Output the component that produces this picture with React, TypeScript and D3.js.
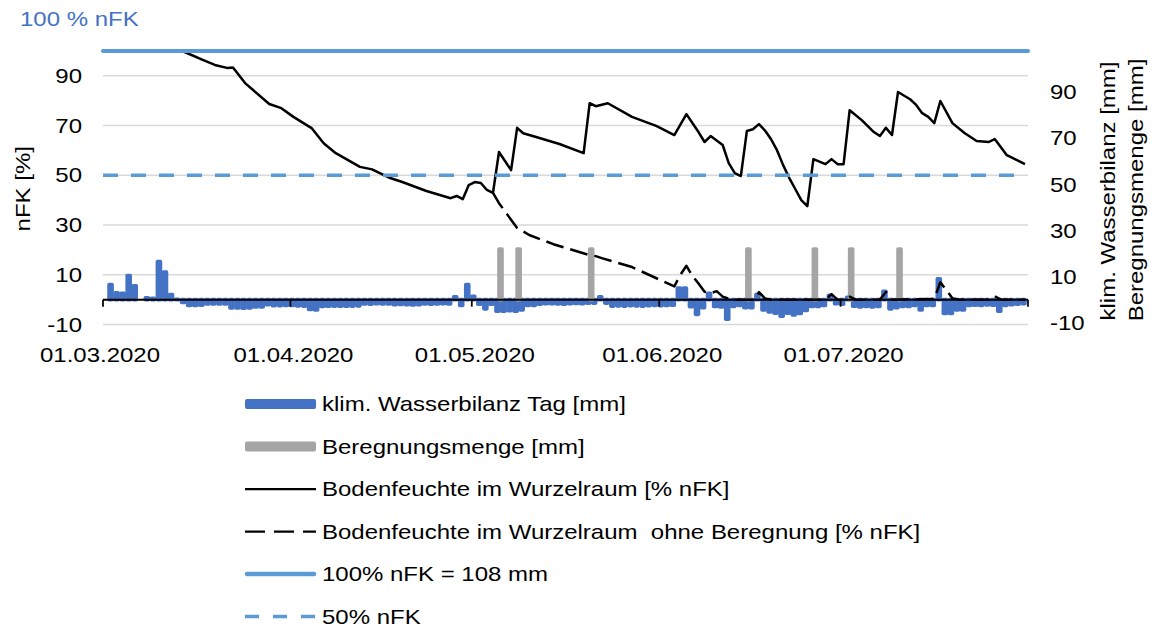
import React from 'react';
import * as d3 from 'd3';

// ---------- DATA ----------
const START = new Date(Date.UTC(2020, 2, 1));
const END = new Date(Date.UTC(2020, 7, 1));

const monthTickDates = ['2020-03-01', '2020-04-01', '2020-05-01', '2020-06-01', '2020-07-01', '2020-08-01'];
const monthLabels = ['01.03.2020', '01.04.2020', '01.05.2020', '01.06.2020', '01.07.2020'];

const leftTicks = [-10, 10, 30, 50, 70, 90];
const rightTicks = [-10, 10, 30, 50, 70, 90];

const FULL_PCT = 100;
const HALF_PCT = 50;
const FULL_MM = 108;
const MIN_PCT = -10;

// klim. Wasserbilanz Tag [mm], one value per day from 01.03.2020
const waterBalance = [
  0, 6.5, 3.0, 2.8, 10.5, 6.0, 0, 0.8, 0.6, 16.5,
  12.0, 2.2, 0.2, -1.2, -2.5, -2.5, -2.4, -1.9, -1.9, -1.9,
  -1.9, -3.6, -3.6, -3.7, -3.6, -3.2, -3.2, -2.2, -2.6, -2.6,
  -2.5, -2.5, -2.7, -2.8, -4.3, -4.5, -3.0, -2.9, -2.8, -2.9,
  -2.9, -2.8, -2.7, -1.9, -2.0, -1.8, -1.9, -1.9, -2.2, -2.1,
  -2.2, -2.3, -2.2, -1.9, -2.0, -1.9, -1.8, -1.9, 1.2, -2.5,
  6.5, 1.4, -2.0, -4.0, -2.0, -5.0, -5.0, -4.8, -5.0, -4.5,
  -2.5, -2.5, -2.0, -1.8, -1.8, -1.9, -2.0, -1.8, -1.7, -1.8,
  -1.6, -1.5, 1.2, -1.5, -2.8, -2.7, -2.8, -2.6, -2.7, -2.8,
  -2.6, -2.5, -2.6, -2.5, -2.4, 5.0, 5.0, -3.1, -6.4, -3.5,
  2.7, -3.0, -3.2, -8.5, -3.0, -2.5, -3.5, -3.5, 2.2, -4.5,
  -5.3, -5.9, -7.2, -5.9, -6.7, -6.0, -4.7, -3.0, -3.0, -2.5,
  1.9, -1.8, -2.0, 1.0, -2.9, -3.2, -3.0, -3.2, -3.0, 3.6,
  -4.0, -3.5, -3.0, -3.0, -2.5, -4.5, -2.5, -2.5, 9.0, -6.0,
  -6.0, -4.5, -4.5, -2.5, -2.4, -2.5, -2.3, -2.4, -5.0, -2.5,
  -2.2, -2.0, -1.8,
];

// Beregnungsmenge [mm], day index after 01.03.2020
const irrigationDays = [65, 68, 80, 106, 117, 123, 131];
const irrigationMm = [22, 22, 22, 22, 22, 22, 22];

// Bodenfeuchte im Wurzelraum [% nFK]
const soilDays = [
  0, 12, 13, 16, 18, 20, 21, 23, 27, 29, 31, 34, 36, 38, 42, 44, 47, 49, 53, 57,
  58, 59, 60, 61, 62, 63, 64, 65, 67, 68, 69, 71, 75, 79, 80, 81, 83, 87, 91, 94,
  96, 98, 99, 100, 102, 103, 104, 105, 106, 107, 108, 109, 110, 111, 112, 113, 114, 115, 116, 117,
  119, 120, 121, 122, 123, 125, 127, 128, 129, 130, 131, 133, 134, 135, 136, 137, 138, 140, 142, 144,
  146, 147, 149, 152,
];
const soilPct = [
  100, 100, 99.6, 96.4, 94.4, 93.2, 93.4, 87.1, 78.7, 77, 73.5, 69, 62.9, 58.9, 53.4, 52.4, 48.9, 47.3, 43.7, 40.8,
  41.7, 40.4, 46.1, 47.3, 46.9, 44.1, 42.9, 59.4, 52.1, 69.1, 66.9, 65.5, 62.6, 58.9, 79, 77.8, 79, 73.5, 69.9, 66.2,
  74.6, 67.4, 63.4, 65.8, 62.2, 54.9, 50.9, 49.7, 67.8, 68.5, 70.6, 68, 64.5, 60, 54.1, 49, 44.5, 40, 37.6, 56.5,
  54.5, 56.5, 54.5, 54.5, 76.2, 72.2, 67.4, 65.8, 69.1, 66.2, 83.5, 80.6, 78.3, 75, 73.5, 71, 79.9, 71, 67, 63.8,
  63.4, 64.6, 58.1, 54.5,
];

// Bodenfeuchte im Wurzelraum ohne Beregnung [% nFK]
const noIrrDays = [
  64, 65, 68, 70, 74, 80, 81, 82, 87, 94, 95, 96, 97, 98, 99, 100, 101, 102, 103, 104,
  107, 108, 109, 110, 119, 120, 121, 122, 123, 124, 128, 129, 130, 137, 138, 140, 141, 146, 147, 148,
  152,
];
const noIrrPct = [
  42.9, 38.8, 28.8, 26, 22.3, 17.9, 17.5, 16.7, 13.1, 5.3, 10, 13.6, 9.5, 6.5, 3.2, 2.6, 3.4, 1.2, 0.4, 0,
  0, 3, 0.5, 0, 0, 2.2, 0, 0, 1.2, 0, 0, 3.1, 0, 0.3, 7, 0.6, 0, 0, 1.4, 0,
  0,
];

const legendItems = [
  'klim. Wasserbilanz Tag [mm]',
  'Beregnungsmenge [mm]',
  'Bodenfeuchte im Wurzelraum [% nFK]',
  'Bodenfeuchte im Wurzelraum  ohne Beregnung [% nFK]',
  '100% nFK = 108 mm',
  '50% nFK',
];

// ---------- STYLE ----------
const W = 1157;
const H = 630;
const PL = 103;
const PR = 1028;
const PT = 51;
const PB = 324.5;
const FONT = "'Liberation Sans', Arial, Helvetica, sans-serif";
const FS = 20;
const SX = 1.2;
const BLUE = '#4472C4';
const GRAY = '#A5A5A5';
const LINEBLUE = '#5B9BD5';
const GRID = '#D9D9D9';

const DAY_MS = 864e5;

function Txt(props: {
  x: number; y: number; anchor?: string; rotate?: number; fill?: string; size?: number; children: React.ReactNode;
}) {
  const { x, y, anchor = 'start', rotate = 0, fill = '#000', size = FS, children } = props;
  return (
    <text
      transform={`translate(${x},${y}) rotate(${rotate}) scale(${SX},1)`}
      textAnchor={anchor}
      fontFamily={FONT}
      fontSize={size}
      fill={fill}
      style={{ whiteSpace: 'pre' }}
    >
      {children}
    </text>
  );
}

export default function App() {
  const x = d3.scaleUtc().domain([START, END]).range([PL, PR]);
  const xd = (k: number) => x(new Date(START.getTime() + k * DAY_MS));
  const yL = d3.scaleLinear().domain([MIN_PCT, FULL_PCT]).range([PB, PT]);
  const yR = d3
    .scaleLinear()
    .domain([(MIN_PCT * FULL_MM) / FULL_PCT, FULL_MM])
    .range([PB, PT]);

  const line = d3
    .line<[number, number]>()
    .x((d) => xd(d[0] + 0.5))
    .y((d) => yL(d[1]));

  const soilPts: [number, number][] = soilDays.map((d, i) => [d, soilPct[i]]);
  const noIrrPts: [number, number][] = noIrrDays.map((d, i) => [d, noIrrPct[i]]);

  const y0 = yR(0);

  const legendY = [404, 446.5, 489, 531.5, 574, 616.5];
  const LX0 = 245;
  const LX1 = 316;

  return (
    <svg
      width={W}
      height={H}
      viewBox={`0 0 ${W} ${H}`}
      style={{ position: 'absolute', left: 0, top: 0, background: '#fff' }}
    >
      <rect x={0} y={0} width={W} height={H} fill="#fff" />

      {/* title */}
      <Txt x={20} y={26} fill={BLUE}>100 % nFK</Txt>

      {/* gridlines */}
      {leftTicks.map((t) => (
        <line key={'g' + t} x1={PL} x2={PR} y1={yL(t)} y2={yL(t)} stroke={GRID} strokeWidth={1.5} />
      ))}

      {/* water balance bars */}
      {waterBalance.map((v, k) => {
        if (v === 0) return null;
        const yy = yR(v);
        const top = Math.min(yy, y0);
        const h = Math.abs(yy - y0);
        const x0 = xd(k);
        const x1 = xd(k + 0.5);
        return (
          <rect
            key={'b' + k}
            x={x0}
            y={top}
            width={x1 - x0}
            height={h}
            fill={BLUE}
            stroke={BLUE}
            strokeWidth={3.6}
            strokeLinejoin="round"
          />
        );
      })}

      {/* irrigation bars */}
      {irrigationDays.map((k, i) => {
        const yy = yR(irrigationMm[i]);
        const x0 = xd(k + 0.5);
        const x1 = xd(k + 1);
        return (
          <rect
            key={'i' + k}
            x={x0}
            y={yy}
            width={x1 - x0}
            height={y0 - yy}
            fill={GRAY}
            stroke={GRAY}
            strokeWidth={3.6}
            strokeLinejoin="round"
          />
        );
      })}

      {/* x axis */}
      <line x1={PL} x2={PR} y1={yL(0)} y2={yL(0)} stroke="#000" strokeWidth={2} />
      {monthTickDates.map((s) => {
        const xx = x(new Date(s + 'T00:00:00Z'));
        return <line key={'t' + s} x1={xx} x2={xx} y1={yL(0)} y2={yL(0) + 7} stroke="#000" strokeWidth={1.75} />;
      })}

      {/* soil moisture lines */}
      <path d={line(soilPts) || ''} fill="none" stroke="#000" strokeWidth={2.5} strokeLinejoin="round" />
      <path
        d={line(noIrrPts) || ''}
        fill="none"
        stroke="#000"
        strokeWidth={2.5}
        strokeDasharray="18 7"
        strokeLinejoin="round"
      />

      {/* 100% and 50% nFK lines */}
      <line x1={PL} x2={PR} y1={yL(FULL_PCT)} y2={yL(FULL_PCT)} stroke={LINEBLUE} strokeWidth={4} strokeLinecap="round" />
      <line
        x1={PL}
        x2={PR - 8}
        y1={yL(HALF_PCT)}
        y2={yL(HALF_PCT)}
        stroke={LINEBLUE}
        strokeWidth={3.5}
        strokeDasharray="15 13"
      />

      {/* left axis labels */}
      {leftTicks.map((t) => (
        <Txt key={'l' + t} x={82} y={yL(t) + 7} anchor="end">{String(t)}</Txt>
      ))}
      <Txt x={29.5} y={(PT + PB) / 2 + 1} anchor="middle" rotate={-90}>nFK [%]</Txt>

      {/* right axis labels */}
      {rightTicks.map((t) => (
        <Txt key={'r' + t} x={1050} y={yR(t) + 7}>{String(t)}</Txt>
      ))}
      <Txt x={1115} y={191} anchor="middle" rotate={-90}>klim. Wasserbilanz [mm]</Txt>
      <Txt x={1143} y={190} anchor="middle" rotate={-90}>Beregnungsmenge [mm]</Txt>

      {/* x labels */}
      {monthLabels.map((lab, i) => {
        const d = new Date(monthTickDates[i] + 'T00:00:00Z');
        const xx = x(d) + (xd(1) - xd(0)) * 0.5;
        return (
          <Txt key={'x' + lab} x={i === 0 ? xx - 6 : xx} y={362} anchor="middle">{lab}</Txt>
        );
      })}

      {/* legend */}
      <rect x={LX0} y={legendY[0] - 5} width={LX1 - LX0} height={10} rx={2} fill={BLUE} />
      <rect x={LX0} y={legendY[1] - 5} width={LX1 - LX0} height={10} rx={2} fill={GRAY} />
      <line x1={LX0} x2={LX1} y1={legendY[2]} y2={legendY[2]} stroke="#000" strokeWidth={2.25} />
      <line x1={LX0} x2={LX1} y1={legendY[3]} y2={legendY[3]} stroke="#000" strokeWidth={2.25} strokeDasharray="20 9" />
      <line x1={LX0 + 2} x2={LX1 - 2} y1={legendY[4]} y2={legendY[4]} stroke={LINEBLUE} strokeWidth={4.5} strokeLinecap="round" />
      <line x1={LX0} x2={LX1} y1={legendY[5]} y2={legendY[5]} stroke={LINEBLUE} strokeWidth={3.5} strokeDasharray="14 14" />
      {legendItems.map((lab, i) => (
        <Txt key={'lg' + i} x={322} y={legendY[i] + 7}>{lab}</Txt>
      ))}
    </svg>
  );
}
